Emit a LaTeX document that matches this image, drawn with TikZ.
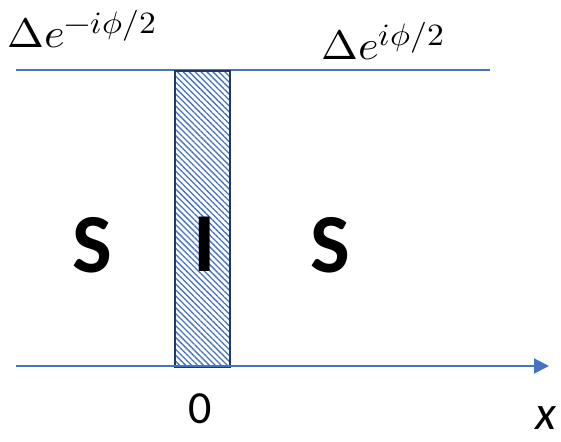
\documentclass[tikz,border=0pt]{standalone}
\usepackage{fontspec}
\usepackage{unicode-math}
\setmainfont{Carlito}
\setmathfont{Latin Modern Math}
\DeclareMathSizes{41}{41}{31}{24}
\usetikzlibrary{arrows.meta,patterns.meta}
\definecolor{lineblue}{HTML}{4472C4}
\definecolor{navy}{HTML}{203864}
\begin{document}
\begin{tikzpicture}[x=1pt,y=-1pt,
  bigletter/.style={inner sep=0pt,anchor=base,font=\fontsize{84}{90}\selectfont\bfseries},
  mathlabel/.style={inner sep=0pt,anchor=base west,font=\fontsize{41}{50}\selectfont,xscale=1.08},
  axislabel/.style={inner sep=0pt,anchor=base,font=\fontsize{46}{52}\selectfont},
  insbox/.style={draw=navy,line width=2pt,pattern={Lines[angle=-45,distance=4.2pt,line width=1.3pt]},pattern color=lineblue,minimum width=55pt,minimum height=296pt,inner sep=0pt,anchor=north west},
  thinline/.style={draw=lineblue,line width=1.2pt},
  axisline/.style={draw=lineblue,line width=2pt,-{Triangle[length=15pt,width=15pt]}}]
\useasboundingbox (0,0) rectangle (561,441);
\coordinate (tl) at (16,70);
\coordinate (tr) at (490,70);
\draw[thinline] (tl) -- (tr);
\node[insbox] (ins) at (174,70) {};
\coordinate (al) at (16,366);
\coordinate (ar) at (549,366);
\draw[axisline] (al) -- (ar);
\node[mathlabel] (dl) at (7,48) {$\Delta e^{-i\phi/2}$};
\node[mathlabel] (dr) at (321,60) {$\Delta e^{i\phi/2}$};
\node[bigletter] (s1) at (92.5,272) {S};
\node[bigletter] (i1) at (205,271) {I};
\node[bigletter] (s2) at (330,272) {S};
\node[axislabel] (zero) at (200.5,423) {0};
\node[axislabel,font=\fontsize{48}{54}\selectfont\itshape] (xl) at (546,429) {x};
\end{tikzpicture}
\end{document}
